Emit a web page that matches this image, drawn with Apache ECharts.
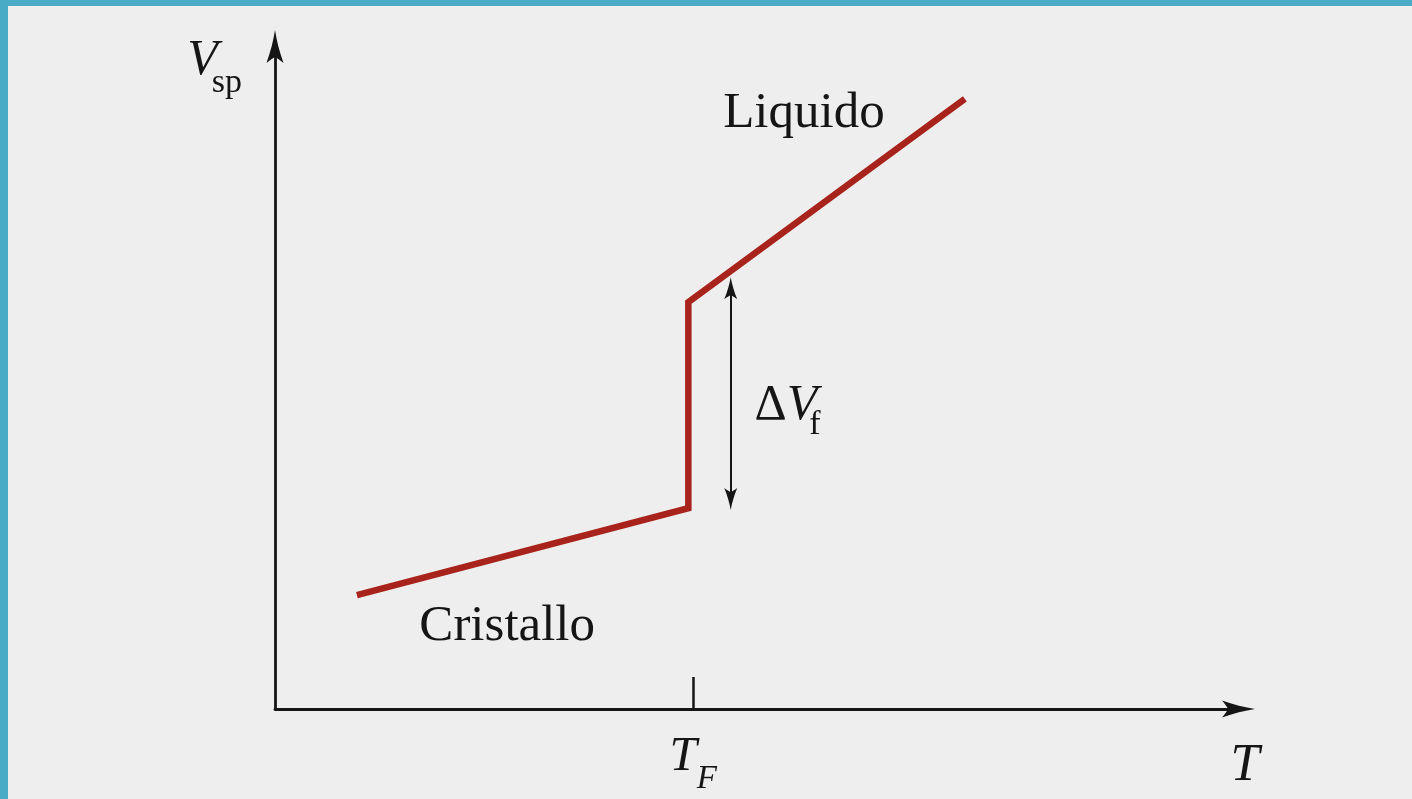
<!DOCTYPE html>
<html>
<head>
<meta charset="utf-8">
<title>Volume specifico - fusione</title>
<script src="https://cdn.jsdelivr.net/npm/echarts@6/dist/echarts.min.js"></script>
<style>
    html, body { margin: 0; padding: 0; background: #4aabc7; overflow: hidden; }
    #chart { position: absolute; left: 8px; top: 6px; width: 1404px; height: 793px; background: #eeeeee; }
</style>
</head>
<body>
<div id="chart"></div>
<script>
// dati (unita' arbitrarie, assi 0..100)
var curvaT = [8.5, 42.9, 42.9, 71.6];
var curvaV = [17.2, 30.3, 61.4, 92.1];
var tickT = [43.4];               // T_F
var deltaT = 47.3;                // freccia Delta V_f
var deltaV = [63.5, 31.7];
var etichette = ['Liquido', 'Cristallo', 'DeltaVf'];
var etichetteT = [54.9, 24.1, 53.2];
var etichetteV = [89.8, 12.4, 45.8];

var SERIF = '"Liberation Serif", "DejaVu Serif", serif';
var NERO = '#151515';
var ROSSO = '#a8231b';
// punta di freccia stile LaTeX (verso l'alto)
var PUNTA = 'path://M8.5 0C10 10 13 22 17 33C13.5 30 10.5 28 8.5 27C6.5 28 3.5 30 0 33C4 22 7 10 8.5 0Z';

var testi = {
    'Liquido': 'Liquido',
    'Cristallo': 'Cristallo',
    'DeltaVf': '{d|\u0394}{v|V}{f|f}'
};

var myChart = echarts.init(document.getElementById('chart'));
myChart.setOption({
    animation: false,
    grid: {
        left: 267,
        right: 173.5,
        top: 40.5,
        bottom: 90,
        outerBoundsMode: 'none'
    },
    xAxis: {
        type: 'value',
        min: 0,
        max: 100,
        name: '{t|T}',
        nameLocation: 'end',
        nameGap: -8,
        nameTextStyle: {
            align: 'left',
            verticalAlign: 'middle',
            rich: {
                t: {fontFamily: SERIF, fontStyle: 'italic', fontSize: 52, lineHeight: 52, color: NERO, padding: [115, 0, 0, 0]}
            }
        },
        axisLine: {
            show: true,
            symbol: ['none', PUNTA],
            symbolSize: [17, 33],
            lineStyle: {color: NERO, width: 2.8}
        },
        axisTick: {
            show: true,
            inside: true,
            length: 32,
            customValues: tickT,
            lineStyle: {color: NERO, width: 2.5}
        },
        axisLabel: {
            show: true,
            customValues: tickT,
            margin: 24,
            formatter: function () {
                return '{t|T}{f|F}';
            },
            rich: {
                t: {fontFamily: SERIF, fontStyle: 'italic', fontSize: 49, lineHeight: 48, color: NERO},
                f: {fontFamily: SERIF, fontStyle: 'italic', fontSize: 33, lineHeight: 48, color: NERO, padding: [45, 0, 0, 0]}
            }
        },
        splitLine: {show: false}
    },
    yAxis: {
        type: 'value',
        min: 0,
        max: 100,
        name: '{v|V}{s|sp}',
        nameLocation: 'end',
        nameGap: 10.5,
        nameTextStyle: {
            align: 'right',
            verticalAlign: 'top',
            rich: {
                v: {fontFamily: SERIF, fontStyle: 'italic', fontSize: 50, lineHeight: 50, color: NERO},
                s: {fontFamily: SERIF, fontSize: 34, lineHeight: 50, color: NERO, padding: [45, 33, 0, -6]}
            }
        },
        axisLine: {
            show: true,
            symbol: ['none', PUNTA],
            symbolSize: [17, 33],
            lineStyle: {color: NERO, width: 2.8}
        },
        axisTick: {show: false},
        axisLabel: {show: false},
        splitLine: {show: false}
    },
    series: [
        {
            name: 'Vsp',
            type: 'line',
            silent: true,
            symbol: 'none',
            data: curvaT.map(function (t, i) { return [t, curvaV[i]]; }),
            lineStyle: {color: ROSSO, width: 6.5, cap: 'butt', join: 'miter'},
            emphasis: {disabled: true},
            markLine: {
                silent: true,
                symbol: [PUNTA, PUNTA],
                symbolSize: [13, 22],
                label: {show: false},
                lineStyle: {color: NERO, width: 2, type: 'solid'},
                emphasis: {disabled: true},
                data: [
                    [{coord: [deltaT, deltaV[0]]}, {coord: [deltaT, deltaV[1]]}]
                ]
            }
        },
        {
            name: 'etichette',
            type: 'scatter',
            silent: true,
            clip: false,
            symbolSize: 1,
            itemStyle: {color: 'transparent', opacity: 1},
            emphasis: {disabled: true},
            data: etichette.map(function (n, i) {
                return {name: n, value: [etichetteT[i], etichetteV[i]]};
            }),
            label: {
                show: true,
                position: 'inside',
                fontFamily: SERIF,
                fontSize: 51,
                color: NERO,
                opacity: 1,
                formatter: function (p) {
                    return testi[p.name];
                },
                rich: {
                    d: {fontFamily: SERIF, fontSize: 50, lineHeight: 50, color: NERO},
                    v: {fontFamily: SERIF, fontStyle: 'italic', fontSize: 50, lineHeight: 50, color: NERO},
                    f: {fontFamily: SERIF, fontSize: 34, lineHeight: 50, color: NERO, padding: [39, 0, 0, -8]}
                }
            }
        }
    ]
});
</script>
</body>
</html>
